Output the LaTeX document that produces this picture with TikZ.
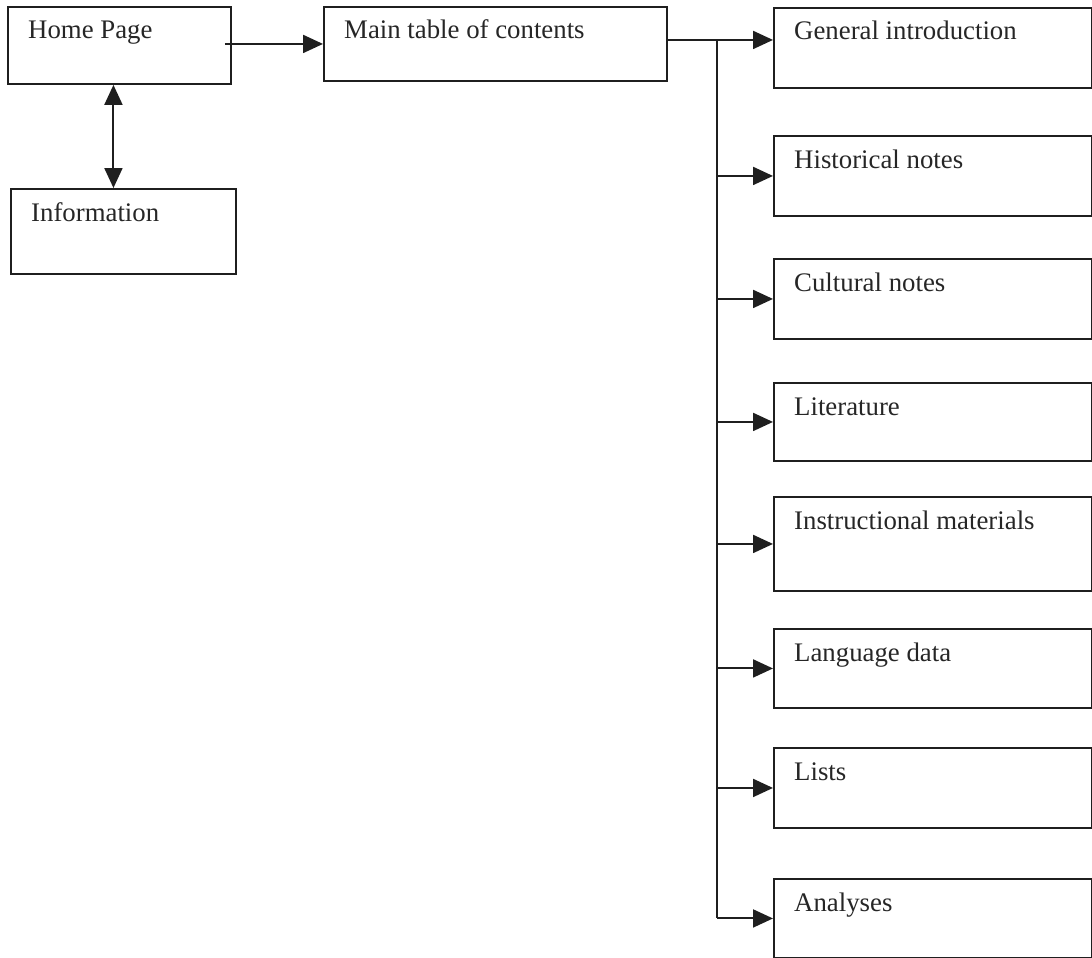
\documentclass[tikz,border=0pt]{standalone}
\usepackage{fontspec}
\setmainfont{Liberation Serif}
\usetikzlibrary{arrows.meta}
\begin{document}
\begin{tikzpicture}[x=1pt,y=-1pt,
  box/.style={draw=black!88, line width=1.9pt, anchor=north west, inner sep=0pt},
  side/.style={box, minimum width=318pt, minimum height=80pt},
  txt/.style={anchor=base west, inner sep=0pt, text=black!85,
              font=\fontsize{26.8}{30}\selectfont, xshift=21pt, yshift=-33pt},
  conn/.style={draw=black!88, line width=2pt},
  arr/.style={conn, -{Triangle[length=20pt,width=18pt]}},
  darr/.style={conn, {Triangle[length=20pt,width=18pt]}-{Triangle[length=20pt,width=18pt]}}]
\useasboundingbox (0,0) rectangle (1092,958);

% left column
\node[box, minimum width=223pt, minimum height=77pt,
      label={[txt]north west:Home Page}] (hp) at (7,6) {};
\node[box, minimum width=225pt, minimum height=85pt,
      label={[txt]north west:Information}] (info) at (10,188) {};
\node[box, minimum width=343pt, minimum height=74pt,
      label={[txt]north west:Main table of contents}] (main) at (323,6) {};

% section boxes
\node[side, label={[txt]north west:General introduction}] (gi) at (773,7) {};
\node[side, label={[txt]north west:Historical notes}] (hn) at (773,135) {};
\node[side, label={[txt]north west:Cultural notes}] (cn) at (773,258) {};
\node[side, minimum height=78pt, label={[txt]north west:Literature}] (lit) at (773,382) {};
\node[side, minimum height=94pt, label={[txt]north west:Instructional materials}] (im) at (773,496) {};
\node[side, minimum height=79pt, label={[txt]north west:Language data}] (ld) at (773,628) {};
\node[side, label={[txt]north west:Lists}] (li) at (773,747) {};
\node[side, minimum height=79pt, label={[txt]north west:Analyses}] (an) at (773,878) {};

% connectors on the left
\draw[arr] ([xshift=-7pt]hp.east |- main.west) -- (main.west);
\draw[darr] ([xshift=-6pt]hp.south) -- ([xshift=-6pt]hp.south |- info.north);

% trunk and branches
\coordinate (gia) at ([yshift=8pt]gi.west);
\coordinate (tk) at (717,0);
\draw[arr] (main.east |- gia) -- (gia);
\draw[conn] (tk |- gia) -- (tk |- an.west);
\foreach \b in {hn,cn,lit,im,ld,li,an}
  \draw[arr] (tk |- \b.west) -- (\b.west);
\end{tikzpicture}
\end{document}
